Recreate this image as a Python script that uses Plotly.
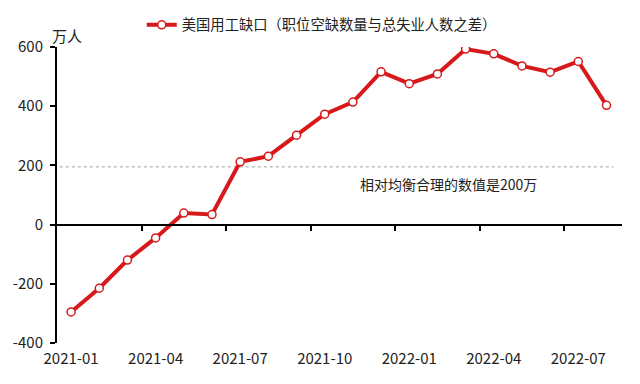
import plotly.graph_objects as go

months = ["2021-01","2021-02","2021-03","2021-04","2021-05","2021-06","2021-07","2021-08",
          "2021-09","2021-10","2021-11","2021-12","2022-01","2022-02","2022-03","2022-04",
          "2022-05","2022-06","2022-07","2022-08"]
gap = [-295, -215, -120, -45, 39, 34, 212, 231, 302, 373, 414, 516, 476, 509, 593, 577,
       536, 515, 551, 403]
tick_labels = ["2021-01","2021-04","2021-07","2021-10","2022-01","2022-04","2022-07"]
series_name = "美国用工缺口（职位空缺数量与总失业人数之差）"
ref_value = 195
ref_text = "相对均衡合理的数值是200万"
y_unit = "万人"
y_ticks = [-400, -200, 0, 200, 400, 600]

RED = "#d7191c"
FONT = "Noto Sans CJK SC"
ymin, ymax = -400, 600
idx = list(range(len(months)))
xr = [-0.5, len(months) - 0.45]

fig = go.Figure()
fig.add_trace(go.Scatter(
    x=idx, y=gap, mode="lines+markers", name=series_name,
    line=dict(color=RED, width=4),
    marker=dict(size=8, color="white", line=dict(color=RED, width=1.5)),
))
# invisible helper trace for the zero-line axis
fig.add_trace(go.Scatter(x=idx, y=gap, xaxis="x2", mode="lines",
                         line=dict(color="rgba(0,0,0,0)"), showlegend=False, hoverinfo="skip"))

fig.add_shape(type="line", xref="paper", yref="y", x0=0.005, x1=0.985, y0=ref_value, y1=ref_value,
              line=dict(color="#a0a0a0", width=1, dash="dot"), layer="below")
fig.add_annotation(x=13.4, y=138, xref="x", yref="y", text=ref_text, showarrow=False,
                   font=dict(size=14, color="#222", family=FONT))
fig.add_annotation(x=0.018, y=1.04, xref="paper", yref="paper", text=y_unit, showarrow=False,
                   font=dict(size=15, color="#222", family=FONT), xanchor="center", yanchor="middle")

tickvals = [months.index(t) for t in tick_labels]
fig.update_layout(
    width=632, height=376,
    margin=dict(l=49, r=18, t=39, b=41),
    paper_bgcolor="white", plot_bgcolor="white",
    font=dict(family=FONT, size=15, color="#222"),
    showlegend=True,
    legend=dict(orientation="h", x=0.15, xanchor="left",
                yref="container", y=1 - 17 / 376, yanchor="middle",
                font=dict(size=14.3, family=FONT), bgcolor="rgba(0,0,0,0)",
                itemwidth=30),
    xaxis=dict(range=xr, tickmode="array", tickvals=tickvals, ticktext=tick_labels,
               showgrid=False, zeroline=False, showline=False, ticks="",
               tickfont=dict(size=15), automargin=False, ticklabelstandoff=5),
    xaxis2=dict(range=xr, overlaying="x", anchor="free",
                position=(0 - ymin) / (ymax - ymin), side="bottom",
                showline=True, linecolor="black", linewidth=2,
                tickmode="array", tickvals=[2.5 + 3 * k for k in range(6)],
                ticks="outside", ticklen=5, tickwidth=2, tickcolor="black",
                showticklabels=False, showgrid=False, zeroline=False, automargin=False),
    yaxis=dict(range=[ymin, ymax], tickmode="array", tickvals=y_ticks,
               ticktext=[str(v) for v in y_ticks],
               showgrid=False, zeroline=False,
               showline=True, linecolor="black", linewidth=2,
               ticks="outside", ticklen=5, tickwidth=2, tickcolor="black",
               tickfont=dict(size=15), automargin=False, ticklabelstandoff=4),
)

fig.write_html("out.html")
